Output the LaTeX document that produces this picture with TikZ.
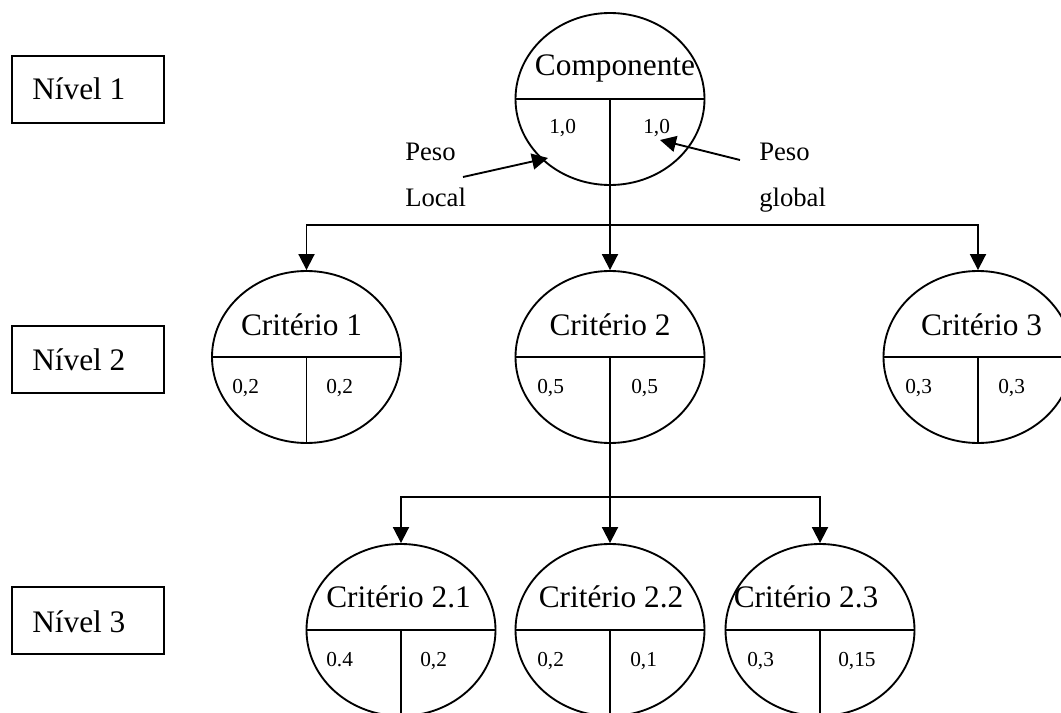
\documentclass[tikz,border=0pt]{standalone}
\usepackage{fontspec}
\setmainfont{Liberation Serif}
\usetikzlibrary{shapes.geometric,arrows.meta}
\begin{document}
\begin{tikzpicture}[x=0.75pt,y=-0.75pt,
 lw/.style={line width=1.4pt},
 crit/.style={ellipse, draw, line width=1.4pt, minimum width=141.75pt, minimum height=129pt, inner sep=0pt},
 big/.style={font=\fontsize{23.5}{28}\selectfont, inner sep=0pt, anchor=base},
 num/.style={font=\fontsize{16}{19}\selectfont, inner sep=0pt, anchor=base west},
 peso/.style={font=\fontsize{20}{24}\selectfont, inner sep=0pt, anchor=base west},
 arr/.style={line width=1.4pt, -{Triangle[length=12pt,width=12pt]}},
 lvbox/.style={draw, line width=1.4pt, minimum width=114pt, minimum height=50.25pt, inner sep=0pt, anchor=north west},
 lvtext/.style={font=\fontsize{23.5}{28}\selectfont, inner sep=0pt, anchor=base west}]
\useasboundingbox (0,0) rectangle (1061,713);
\clip (0,0) rectangle (1061,713);
\fill[white] (0,0) rectangle (1061,713);

% level boxes
\node[lvbox] (b1) at (11,55) {};
\node[lvtext] (l1) at (32,100) {Nível 1};
\node[lvbox] (b2) at (11,325) {};
\node[lvtext] (l2) at (32,370) {Nível 2};
\node[lvbox] (b3) at (11,586) {};
\node[lvtext] (l3) at (32,632) {Nível 3};

% ellipses
\node[crit] (comp) at (610,99) {};
\node[crit] (c1) at (306.5,357) {};
\node[crit] (c2) at (610,357) {};
\node[crit] (c3) at (978,357) {};
\node[crit] (c21) at (401,630) {};
\node[crit] (c22) at (610,630) {};
\node[crit] (c23) at (820,630) {};

\foreach \n in {comp,c1,c2,c3,c21,c22,c23} \draw[lw] (\n.west) -- (\n.east);
\foreach \n in {c1,c3,c21,c22,c23} \draw[lw] (\n.center) -- (\n.south);

% connectors
\coordinate (j1) at (610,225);
\draw[lw] (comp.center) -- (j1);
\draw[arr] (j1) -- (c2.north);
\draw[arr] (j1) -| (c1.north);
\draw[arr] (j1) -| (c3.north);
\coordinate (j2) at (610,497);
\draw[lw] (c2.center) -- (j2);
\draw[arr] (j2) -- (c22.north);
\draw[arr] (j2) -| (c21.north);
\draw[arr] (j2) -| (c23.north);

% titles
\node[big] (tcomp) at (615,76) {Componente};
\node[big] (tc1) at (301.5,335) {Critério 1};
\node[big] (tc2) at (610,335) {Critério 2};
\node[big] (tc3) at (981.5,335) {Critério 3};
\node[big] (tc21) at (398.5,607) {Critério 2.1};
\node[big] (tc22) at (611,607) {Critério 2.2};
\node[big] (tc23) at (806,607) {Critério 2.3};

% numbers
\node[num] (n0a) at (549,134) {1,0};
\node[num] (n0b) at (643,134) {1,0};
\node[num] (n1a) at (232,393) {0,2};
\node[num] (n1b) at (326,393) {0,2};
\node[num] (n2a) at (537,393) {0,5};
\node[num] (n2b) at (631,393) {0,5};
\node[num] (n3a) at (905,393) {0,3};
\node[num] (n3b) at (998,393) {0,3};
\node[num] (n21a) at (326,666) {0.4};
\node[num] (n21b) at (420,666) {0,2};
\node[num] (n22a) at (537,666) {0,2};
\node[num] (n22b) at (630,666) {0,1};
\node[num] (n23a) at (747,666) {0,3};
\node[num] (n23b) at (838,666) {0,15};

% weight labels
\node[peso] (pl1) at (405,161) {Peso};
\node[peso] (pl2) at (405,207) {Local};
\node[peso] (pg1) at (759,161) {Peso};
\node[peso] (pg2) at (759,207) {global};
\coordinate (pls) at (463,177);
\coordinate (ple) at (548,158);
\coordinate (pgs) at (740,160);
\coordinate (pge) at (660,140);
\draw[arr] (pls) -- (ple);
\draw[arr] (pgs) -- (pge);
\end{tikzpicture}
\end{document}
